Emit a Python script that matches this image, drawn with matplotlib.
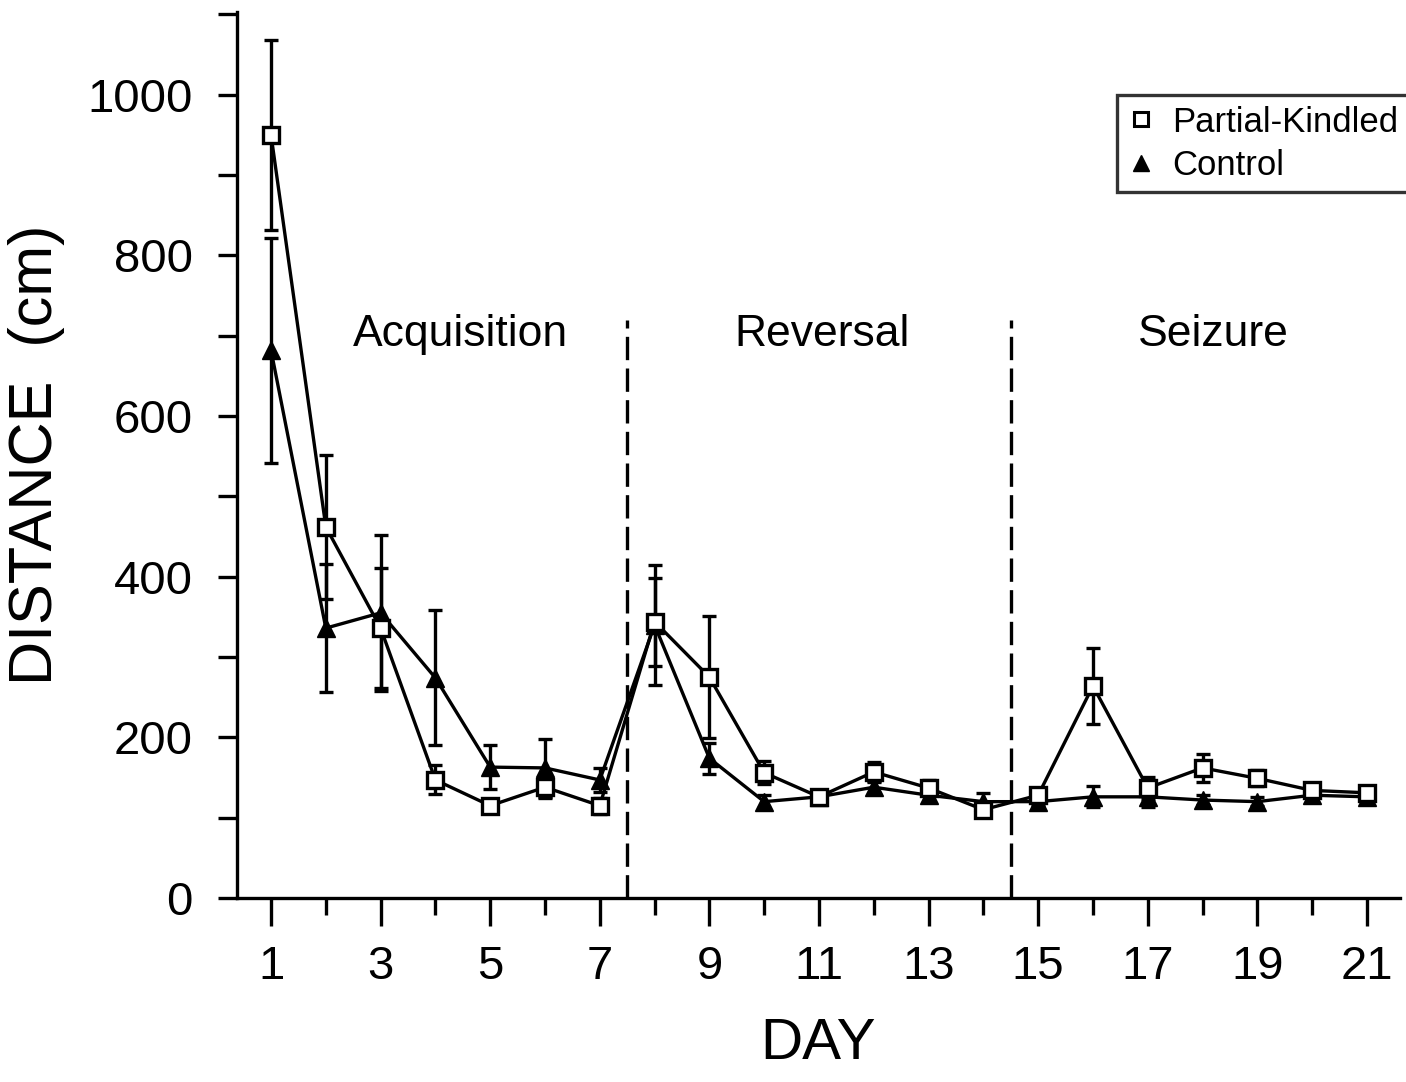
import numpy as np
import matplotlib.pyplot as plt
from matplotlib.lines import Line2D
from matplotlib.ticker import MultipleLocator

plt.rcParams['font.family'] = ['Liberation Sans', 'DejaVu Sans']

# values
days = list(range(1, 22))
kindled = [950, 462, 336, 147, 115, 138, 115, 344, 275, 156, 126, 157, 137, 110,
           128, 264, 137, 162, 149, 134, 131]
kindled_err = [118, 90, 75, 18, 8, 14, 10, 55, 76, 14, 8, 12, 10, 8,
               8, 47, 14, 17, 10, 8, 8]
control = [682, 336, 355, 274, 163, 162, 147, 340, 174, 120, 126, 138, 128, 120,
           120, 126, 126, 122, 120, 128, 126]
control_err = [140, 80, 97, 84, 27, 36, 15, 75, 19, 8, 8, 8, 8, 11,
               6, 13, 13, 6, 6, 6, 6]
phases = ['Acquisition', 'Reversal', 'Seizure']
phase_x = [4.45, 11.05, 18.2]
boundaries = [7.5, 14.5]

fig = plt.figure(figsize=(14.06, 10.82), dpi=100)
ax = fig.add_axes([0.1686, 0.170, 0.827, 0.819])

ax.errorbar(days, control, yerr=control_err, color='black', lw=2.4,
            marker='^', ms=13, mfc='black', mec='black',
            capsize=5, capthick=2.4, elinewidth=2.4, zorder=3)
ax.errorbar(days, kindled, yerr=kindled_err, color='black', lw=2.4,
            marker='s', ms=12, mfc='white', mec='black', mew=2.4,
            capsize=5, capthick=2.4, elinewidth=2.4, zorder=4)

for b in boundaries:
    ax.plot([b, b], [0, 720], color='black', lw=2.4, ls=(0, (7, 2.5)), zorder=2)

for name, x in zip(phases, phase_x):
    ax.text(x, 701, name, ha='center', va='center', fontsize=32)

ax.set_xlim(0.38, 21.6)
ax.set_ylim(0, 1103)
ax.set_xticks(range(1, 22, 2))
ax.xaxis.set_minor_locator(MultipleLocator(1))
ax.yaxis.set_major_locator(MultipleLocator(200))
ax.yaxis.set_minor_locator(MultipleLocator(100))

for s in ['top', 'right']:
    ax.spines[s].set_visible(False)
for s in ['left', 'bottom']:
    ax.spines[s].set_linewidth(2.4)

ax.tick_params(axis='both', which='both', direction='out', width=2.4, labelsize=34)
ax.tick_params(axis='x', which='major', length=20, pad=14)
ax.tick_params(axis='x', which='minor', length=12)
ax.tick_params(axis='y', which='both', length=14, pad=18)

ax.set_xlabel('DAY', fontsize=42, labelpad=20)
ax.set_ylabel('DISTANCE  (cm)', fontsize=44, labelpad=16)

handles = [Line2D([], [], ls='none', marker='s', ms=10, mfc='white', mec='black', mew=2.2),
           Line2D([], [], ls='none', marker='^', ms=11, mfc='black', mec='black')]
leg = ax.legend(handles, ['Partial-Kindled', 'Control'], loc='upper right',
                bbox_to_anchor=(1.008, 0.906), fontsize=25, fancybox=False,
                edgecolor='black', handlelength=0.8, handletextpad=0.5,
                borderpad=0.3, labelspacing=0.3, borderaxespad=0)
leg.get_frame().set_linewidth(2.4)

fig.savefig('out.png', dpi=100, facecolor='white')
